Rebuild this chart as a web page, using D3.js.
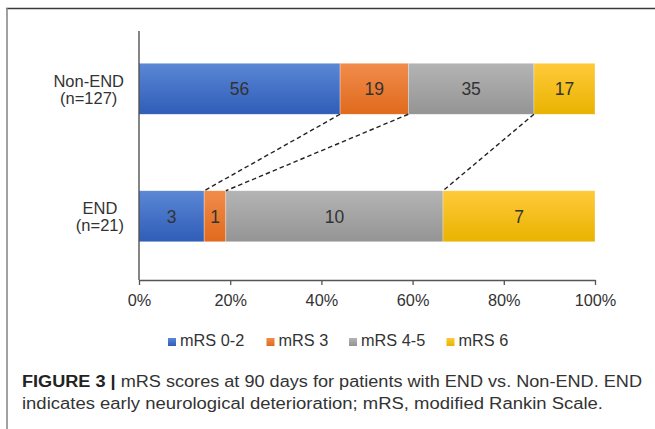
<!DOCTYPE html>
<html><head><meta charset="utf-8">
<script src="https://cdn.jsdelivr.net/npm/d3@7"></script>
<style>html,body{margin:0;padding:0;background:#fff;}svg{display:block;font-family:"Liberation Sans",Arial,sans-serif;}</style>
</head><body>
<svg id="c" width="655" height="429"></svg>
<script>
const categories = ["Non-END (n=127)", "END (n=21)"];
const categoryLines = [["Non-END", "(n=127)"], ["END", "(n=21)"]];
const seriesNames = ["mRS 0-2", "mRS 3", "mRS 4-5", "mRS 6"];
const nonEndValues = [56, 19, 35, 17];
const endValues = [3, 1, 10, 7];
const tickValues = [0, 20, 40, 60, 80, 100];
const tickLabels = ["0%", "20%", "40%", "60%", "80%", "100%"];
const colorsTop = ["#5b87d5", "#f18c4c", "#b4b4b4", "#ffca3a"];
const colorsBottom = ["#2f5db8", "#e06a1c", "#949494", "#e9b300"];
const captionBold = "FIGURE 3 |";
const captionLine1 = " mRS scores at 90 days for patients with END vs. Non-END. END";
const captionLine2 = "indicates early neurological deterioration; mRS, modified Rankin Scale.";

const svg = d3.select("#c");
const defs = svg.append("defs");
seriesNames.forEach((s, i) => {
  const g = defs.append("linearGradient").attr("id", "g" + i).attr("x1", 0).attr("y1", 0).attr("x2", 0).attr("y2", 1);
  g.append("stop").attr("offset", "0%").attr("stop-color", colorsTop[i]);
  g.append("stop").attr("offset", "100%").attr("stop-color", colorsBottom[i]);
});

// frame
svg.append("line").attr("x1", 6).attr("x2", 655).attr("y1", 8.5).attr("y2", 8.5).attr("stroke", "#3a3a3a").attr("stroke-width", 1.6);
svg.append("line").attr("x1", 7).attr("x2", 7).attr("y1", 8).attr("y2", 429).attr("stroke", "#8a8a8a").attr("stroke-width", 1.6);

const rows = [nonEndValues, endValues];
const data = categories.map((c, i) => {
  const o = { cat: c };
  const tot = d3.sum(rows[i]);
  seriesNames.forEach((s, j) => { o[s] = rows[i][j] / tot; o["v_" + s] = rows[i][j]; });
  return o;
});
const stack = d3.stack().keys(seriesNames)(data);

const x = d3.scaleLinear().domain([0, 1]).range([139, 595]);
const y = d3.scaleBand().domain(categories).range([25, 280]).paddingInner(0.6).paddingOuter(0.3);

// bars
stack.forEach((layer, j) => {
  svg.append("g").selectAll("rect").data(layer).join("rect")
    .attr("x", d => x(d[0])).attr("width", d => x(d[1]) - x(d[0]))
    .attr("y", d => y(d.data.cat)).attr("height", y.bandwidth())
    .attr("fill", "url(#g" + j + ")")
    .attr("stroke", "rgba(255,255,255,0.5)").attr("stroke-width", 0.6);
  svg.append("g").selectAll("text").data(layer).join("text")
    .attr("x", d => (x(d[0]) + x(d[1])) / 2)
    .attr("y", d => y(d.data.cat) + y.bandwidth() / 2 + 6.5)
    .attr("text-anchor", "middle").attr("font-size", 17.5).attr("fill", "#333")
    .text(d => d.data["v_" + seriesNames[j]]);
});

// dashed connectors between boundaries
for (let j = 0; j < seriesNames.length - 1; j++) {
  const top = stack[j][0], bot = stack[j][1];
  svg.append("line")
    .attr("x1", x(top[1])).attr("y1", y(categories[0]) + y.bandwidth())
    .attr("x2", x(bot[1])).attr("y2", y(categories[1]))
    .attr("stroke", "#222").attr("stroke-width", 1.4).attr("stroke-dasharray", "4.5,3");
}

// axes
const xAxis = svg.append("g").attr("transform", "translate(0,280)")
  .call(d3.axisBottom(x).tickValues(tickValues.map(v => v / 100)).tickFormat((d, i) => tickLabels[i]).tickSize(5).tickSizeOuter(0));
xAxis.select(".domain").attr("stroke", "#555").attr("stroke-width", 1.3);
xAxis.selectAll(".tick line").attr("stroke", "#555").attr("stroke-width", 1.3);
xAxis.selectAll(".tick text").attr("font-size", 16.3).attr("fill", "#333").attr("font-family", "Liberation Sans, Arial, sans-serif").attr("dy", 0).attr("y", 26);

svg.append("line").attr("x1", 139).attr("x2", 139).attr("y1", 31).attr("y2", 280).attr("stroke", "#444").attr("stroke-width", 1.3);

// category labels
categoryLines.forEach((lines, i) => {
  const t = svg.append("text").attr("font-size", 16.5).attr("fill", "#333").attr("text-anchor", "middle");
  const widths = lines.map(l => { const tmp = svg.append("text").attr("font-size", 16.5).text(l); const w = tmp.node().getComputedTextLength(); tmp.remove(); return w; });
  const cx = 124 - d3.max(widths) / 2;
  const cy = y(categories[i]) + y.bandwidth() / 2;
  lines.forEach((l, k) => {
    t.append("tspan").attr("x", cx).attr("y", cy - 2 + k * 17).text(l);
  });
});

// legend
const legendX = [168, 266.5, 349, 446.5];
seriesNames.forEach((s, i) => {
  svg.append("rect").attr("x", legendX[i]).attr("y", 338).attr("width", 8).attr("height", 8).attr("fill", "url(#g" + i + ")");
  svg.append("text").attr("x", legendX[i] + 12).attr("y", 346).attr("font-size", 16.3).attr("fill", "#333").text(s);
});

// caption
const c1 = svg.append("text").attr("x", 22).attr("y", 387).attr("font-size", 16).attr("fill", "#333")
  .attr("textLength", 620).attr("lengthAdjust", "spacingAndGlyphs");
c1.append("tspan").attr("font-weight", "bold").attr("fill", "#222").text(captionBold);
c1.append("tspan").text(captionLine1);
svg.append("text").attr("x", 22).attr("y", 409).attr("font-size", 16).attr("fill", "#333")
  .attr("textLength", 581).attr("lengthAdjust", "spacingAndGlyphs").text(captionLine2);
</script>
</body></html>
